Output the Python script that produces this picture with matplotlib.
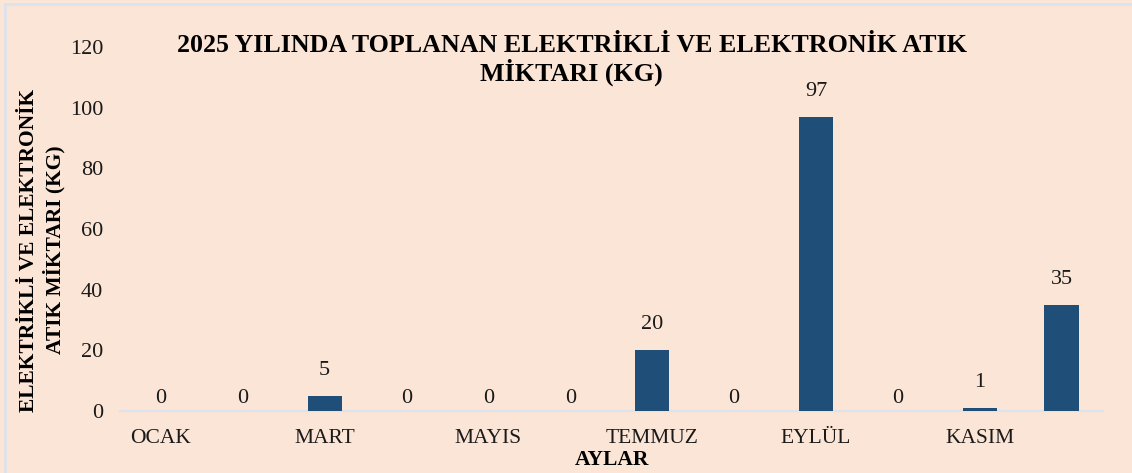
import numpy as np
import matplotlib
matplotlib.use('Agg')
import matplotlib.pyplot as plt
from matplotlib.lines import Line2D

# ── Data ───────────────────────────────────────────────────────────────────
MONTHS = ['OCAK', 'ŞUBAT', 'MART', 'NİSAN', 'MAYIS', 'HAZİRAN',
          'TEMMUZ', 'AĞUSTOS', 'EYLÜL', 'EKİM', 'KASIM', 'ARALIK']
WASTE_KG = [0, 0, 5, 0, 0, 0, 20, 0, 97, 0, 1, 35]
Y_TICKS = [0, 20, 40, 60, 80, 100, 120]
TITLE_LINES = ['2025 YILINDA TOPLANAN ELEKTRİKLİ VE ELEKTRONİK ATIK', 'MİKTARI (KG)']

BG = '#FBE5D6'
BAR = '#1F4E79'
EDGE = '#DCE3EC'
plt.rcParams['font.family'] = ['Liberation Serif', 'DejaVu Serif']

fig = plt.figure(figsize=(11.32, 4.73), dpi=100)
fig.patch.set_facecolor(BG)

# thin frame visible only on top and left (chart is cropped)
fig.add_artist(Line2D([5 / 1132, 1], [1 - 4 / 473] * 2, transform=fig.transFigure,
                      color=EDGE, linewidth=2))
fig.add_artist(Line2D([5 / 1132] * 2, [0, 1 - 4 / 473], transform=fig.transFigure,
                      color=EDGE, linewidth=2))

ax = fig.add_axes([0.106, 0.131, 0.868, 0.770])
ax.set_facecolor(BG)

x = np.arange(len(MONTHS))
ax.bar(x, WASTE_KG, width=0.42, color=BAR, zorder=3)

for xi, val in zip(x, WASTE_KG):
    off = 2 if val == 0 else 11.5
    ax.annotate(f'{val}', (xi, val), xytext=(0, off), textcoords='offset points',
                ha='center', va='bottom', fontsize=16, color='#1A1A1A')

ax.set_xlim(-0.5, 11.5)
ax.set_ylim(0, 120)
ax.set_yticks(Y_TICKS)
ax.set_yticklabels([str(t) for t in Y_TICKS], fontsize=16, color='#1A1A1A')
ax.set_xticks(x[::2])
ax.set_xticklabels(MONTHS[::2], fontsize=15.5, color='#1A1A1A')
ax.tick_params(length=0)
ax.tick_params(axis='y', pad=12)
ax.tick_params(axis='x', pad=13)

for s in ['top', 'right', 'left']:
    ax.spines[s].set_visible(False)
ax.spines['bottom'].set_color(EDGE)
ax.spines['bottom'].set_linewidth(1.5)

# title as two separate lines (centred)
for i, line in enumerate(TITLE_LINES):
    fig.text(0.505, 1 - (45 + 27 * i) / 473, line, ha='center', va='center',
             fontsize=18.7, fontweight='bold', color='#000000')

fig.text(42 / 1132, 1 - 250 / 473,
         'ELEKTRİKLİ VE ELEKTRONİK\nATIK MİKTARI (KG)',
         rotation=90, ha='center', va='center', multialignment='center',
         fontsize=15.5, fontweight='bold', linespacing=1.25)

fig.text(612 / 1132, 1 - 460 / 473, 'AYLAR', ha='center', va='center',
         fontsize=15.5, fontweight='bold')

fig.savefig('out.png', dpi=100, facecolor=BG)
